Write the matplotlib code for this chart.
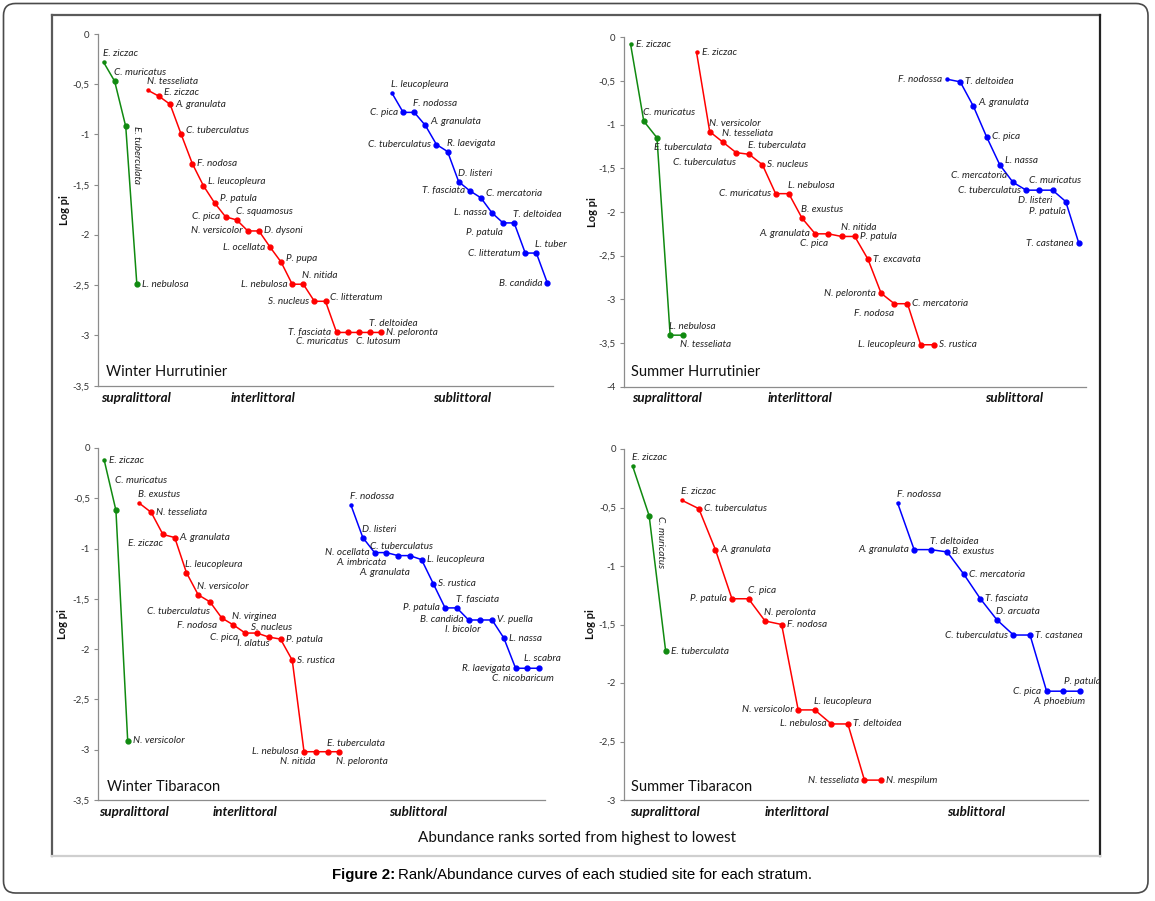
import matplotlib
matplotlib.use('Agg')
import matplotlib.pyplot as plt
from matplotlib.patches import FancyBboxPatch
from matplotlib.lines import Line2D
import numpy as np

# ---------------- DATA ----------------
# Winter Hurrutinier
wh_sup_species = ['E. ziczac', 'C. muricatus', 'E. tuberculata', 'L. nebulosa']
wh_sup_logpi = [-0.28, -0.47, -0.92, -2.49]
wh_int_species = ['N. tesseliata', 'E. ziczac', 'A. granulata', 'C. tuberculatus', 'F. nodosa',
                  'L. leucopleura', 'P. patula', 'C. pica', 'C. squamosus', 'N. versicolor',
                  'D. dysoni', 'L. ocellata', 'P. pupa', 'L. nebulosa', 'N. nitida', 'S. nucleus',
                  'C. litteratum', 'T. fasciata', 'C. muricatus', 'C. lutosum', 'T. deltoidea',
                  'N. peloronta']
wh_int_logpi = [-0.56, -0.62, -0.70, -1.00, -1.29, -1.51, -1.68, -1.82, -1.85, -1.96,
                -1.96, -2.12, -2.27, -2.49, -2.49, -2.66, -2.66, -2.97, -2.97, -2.97,
                -2.97, -2.97]
wh_sub_species = ['L. leucopleura', 'C. pica', 'F. nodossa', 'A. granulata', 'C. tuberculatus',
                  'R. laevigata', 'D. listeri', 'T. fasciata', 'C. mercatoria', 'L. nassa',
                  'P. patula', 'T. deltoidea', 'C. litteratum', 'L. tuber', 'B. candida']
wh_sub_logpi = [-0.59, -0.78, -0.78, -0.91, -1.10, -1.17, -1.47, -1.56, -1.63, -1.78,
                -1.88, -1.88, -2.18, -2.18, -2.48]

# Summer Hurrutinier
sh_sup_species = ['E. ziczac', 'C. muricatus', 'E. tuberculata', 'L. nebulosa', 'N. tesseliata']
sh_sup_logpi = [-0.08, -0.96, -1.15, -3.41, -3.41]
sh_int_species = ['E. ziczac', 'N. versicolor', 'N. tesseliata', 'C. tuberculatus', 'E. tuberculata',
                  'S. nucleus', 'C. muricatus', 'L. nebulosa', 'B. exustus', 'A. granulata',
                  'C. pica', 'N. nitida', 'P. patula', 'T. excavata', 'N. peloronta',
                  'F. nodosa', 'C. mercatoria', 'L. leucopleura', 'S. rustica']
sh_int_logpi = [-0.17, -1.08, -1.20, -1.32, -1.34, -1.46, -1.79, -1.79, -2.07, -2.25,
                -2.25, -2.28, -2.28, -2.54, -2.93, -3.05, -3.05, -3.52, -3.52]
sh_sub_species = ['F. nodossa', 'T. deltoidea', 'A. granulata', 'C. pica', 'L. nassa',
                  'C. mercatoria', 'C. tuberculatus', 'D. listeri', 'C. muricatus', 'P. patula',
                  'T. castanea']
sh_sub_logpi = [-0.48, -0.51, -0.79, -1.14, -1.46, -1.66, -1.75, -1.75, -1.75, -1.88, -2.36]

# Winter Tibaracon
wt_sup_species = ['E. ziczac', 'C. muricatus', 'N. versicolor']
wt_sup_logpi = [-0.12, -0.62, -2.91]
wt_int_species = ['B. exustus', 'N. tesseliata', 'E. ziczac', 'A. granulata', 'L. leucopleura',
                  'N. versicolor', 'C. tuberculatus', 'F. nodosa', 'N. virginea', 'C. pica',
                  'I. alatus', 'S. nucleus', 'P. patula', 'S. rustica', 'L. nebulosa',
                  'N. nitida', 'E. tuberculata', 'N. peloronta']
wt_int_logpi = [-0.55, -0.64, -0.86, -0.89, -1.24, -1.46, -1.53, -1.69, -1.76, -1.84,
                -1.84, -1.88, -1.90, -2.11, -3.02, -3.02, -3.02, -3.02]
wt_sub_species = ['F. nodossa', 'D. listeri', 'N. ocellata', 'A. imbricata', 'C. tuberculatus',
                  'A. granulata', 'L. leucopleura', 'S. rustica', 'P. patula', 'T. fasciata',
                  'B. candida', 'I. bicolor', 'V. puella', 'L. nassa', 'R. laevigata',
                  'C. nicobaricum', 'L. scabra']
wt_sub_logpi = [-0.57, -0.89, -1.04, -1.04, -1.07, -1.07, -1.11, -1.35, -1.59, -1.59,
                -1.71, -1.71, -1.71, -1.89, -2.19, -2.19, -2.19]

# Summer Tibaracon
st_sup_species = ['E. ziczac', 'C. muricatus', 'E. tuberculata']
st_sup_logpi = [-0.145, -0.57, -1.73]
st_int_species = ['E. ziczac', 'C. tuberculatus', 'A. granulata', 'P. patula', 'C. pica',
                  'N. perolonta', 'F. nodosa', 'N. versicolor', 'L. leucopleura', 'L. nebulosa',
                  'T. deltoidea', 'N. tesseliata', 'N. mespilum']
st_int_logpi = [-0.44, -0.51, -0.86, -1.28, -1.28, -1.47, -1.50, -2.23, -2.23, -2.35,
                -2.35, -2.83, -2.83]
st_sub_species = ['F. nodossa', 'A. granulata', 'T. deltoidea', 'B. exustus', 'C. mercatoria',
                  'T. fasciata', 'D. arcuata', 'C. tuberculatus', 'T. castanea', 'C. pica',
                  'A. phoebium', 'P. patula']
st_sub_logpi = [-0.46, -0.86, -0.86, -0.88, -1.07, -1.28, -1.46, -1.59, -1.59, -2.07,
                -2.07, -2.07]

panel_titles = ['Winter Hurrutinier', 'Summer Hurrutinier', 'Winter Tibaracon', 'Summer Tibaracon']
strata = ['supralittoral', 'interlittoral', 'sublittoral']
y_label = 'Log pi'
x_label = 'Abundance ranks sorted from highest to lowest'

# ---------------- LABEL PLACEMENT (style) ----------------
wh_sup_lab = ['ar', 'ar', 'v', 'r']
wh_int_lab = ['ar', 'ru', 'r', 'ru', 'r', 'ru', 'ru', 'l', 'ar', 'l', 'r', 'l', 'ru', 'l', 'ar',
              'l', 'ru', 'l', 'bl', 'br', 'ar', 'r']
wh_sub_lab = ['ar', 'l', 'ar', 'ru', 'l', 'ar', 'ar', 'l', 'ru', 'l', 'bl', 'ar', 'l', 'ar', 'l']
sh_sup_lab = ['r', 'ar', 'br', 'ar', 'br']
sh_int_lab = ['r', 'ar', 'ar', 'bl', 'ar', 'r', 'l', 'ar', 'ar', 'l', 'bl', 'ar', 'r', 'r',
              'l', 'bl', 'r', 'l', 'r']
sh_sub_lab = ['l', 'r', 'ru', 'r', 'ru', 'al', 'l', 'b', 'a', 'bl', 'l']
wt_sup_lab = ['r', 'hi', 'r']
wt_int_lab = ['ar', 'r', 'bl', 'r', 'ar', 'ar', 'bl', 'bll', 'ar', 'ld', 'b', 'a', 'r', 'r',
              'l', 'bl', 'ar', 'br']
wt_sub_lab = ['ar', 'ar', 'l', 'bl', 'a', 'bl2', 'r', 'r', 'l', 'ar', 'l', 'bl', 'r', 'r',
              'l', 'b', 'a']
st_sup_lab = ['ar', 'v', 'r']
st_int_lab = ['ar', 'r', 'r', 'l', 'ar', 'ar', 'r', 'l', 'ar', 'l', 'r', 'l', 'r']
st_sub_lab = ['ar', 'l', 'ar', 'r', 'r', 'r', 'ar', 'l', 'r', 'l', 'b', 'a']

panels = [
    dict(title=panel_titles[0], ylim=-3.5,
         series=[(wh_sup_species, wh_sup_logpi, wh_sup_lab),
                 (wh_int_species, wh_int_logpi, wh_int_lab),
                 (wh_sub_species, wh_sub_logpi, wh_sub_lab)],
         box=(98, 34, 553, 385.7), strata_x=(101, 231, 433), strata_y=398, title_xy=(106, 372), ylab_x=65),
    dict(title=panel_titles[1], ylim=-4.0,
         series=[(sh_sup_species, sh_sup_logpi, sh_sup_lab),
                 (sh_int_species, sh_int_logpi, sh_int_lab),
                 (sh_sub_species, sh_sub_logpi, sh_sub_lab)],
         box=(624, 37.3, 1085.5, 386.7), strata_x=(632, 768, 985), strata_y=398, title_xy=(631, 372), ylab_x=592),
    dict(title=panel_titles[2], ylim=-3.5,
         series=[(wt_sup_species, wt_sup_logpi, wt_sup_lab),
                 (wt_int_species, wt_int_logpi, wt_int_lab),
                 (wt_sub_species, wt_sub_logpi, wt_sub_lab)],
         box=(98.3, 448, 545, 800), strata_x=(99, 213, 389), strata_y=811.7, title_xy=(107, 787), ylab_x=63),
    dict(title=panel_titles[3], ylim=-3.0,
         series=[(st_sup_species, st_sup_logpi, st_sup_lab),
                 (st_int_species, st_int_logpi, st_int_lab),
                 (st_sub_species, st_sub_logpi, st_sub_lab)],
         box=(624.3, 449, 1088, 800), strata_x=(630, 765, 947), strata_y=811.7, title_xy=(631, 787), ylab_x=590),
]

colors = ['#108a10', '#ff0000', '#0000ff']

W, H = 1155, 901
fig = plt.figure(figsize=(W / 100, H / 100), dpi=100)
plt.rcParams['font.family'] = ['Lato', 'DejaVu Sans']

def fx(x):
    return x / W

def fy(y):
    return 1 - y / H

PX = 0.72  # points per pixel
OFFS = {
    'r': (5, 0, 'left', 'center'),
    'ru': (5, 4, 'left', 'center'),
    'l': (-5, 0, 'right', 'center'),
    'ld': (-7, -4, 'right', 'center'),
    'a': (3, 5, 'center', 'bottom'),
    'b': (-4, -6, 'center', 'top'),
    'ar': (-1, 4, 'left', 'bottom'),
    'al': (-6, 2, 'right', 'bottom'),
    'br': (-3, -5, 'left', 'top'),
    'bl': (0, -5, 'right', 'top'),
    'bll': (-5, -3, 'right', 'top'),
    'bl2': (0, -12, 'right', 'top'),
    'hi': (-1, 25, 'left', 'bottom'),
}

lab_fs = 7.2
for p in panels:
    l, t, r, b = p['box']
    ax = fig.add_axes([fx(l), fy(b), (r - l) / W, (b - t) / H])
    n = sum(len(s[1]) for s in p['series'])
    ax.set_xlim(0.5, n + 0.5)
    ax.set_ylim(p['ylim'], 0)
    start = 1
    for (names, vals, labs), c in zip(p['series'], colors):
        xs = np.arange(start, start + len(vals))
        ax.plot(xs, vals, color=c, lw=1.1, marker='o', ms=3.5, mec=c, mfc=c,
                markevery=list(range(1, len(vals))), zorder=3, clip_on=False)
        ax.plot(xs[:1], vals[:1], color=c, marker='o', ms=2.2, ls='none', zorder=3, clip_on=False)
        for x, v, nm, code in zip(xs, vals, names, labs):
            if code == 'v':
                ax.annotate(nm, (x, v), xytext=(11 * PX, 0), textcoords='offset points',
                            rotation=-90, rotation_mode='anchor', ha='left', va='center',
                            fontsize=lab_fs, style='italic', color='#222222')
            else:
                dx, dy, ha, va = OFFS[code]
                ax.annotate(nm, (x, v), xytext=(dx * PX, dy * PX), textcoords='offset points',
                            ha=ha, va=va, fontsize=lab_fs, style='italic', color='#222222')
        start += len(vals)
    ticks = np.arange(0, p['ylim'] - 0.01, -0.5)
    ax.set_yticks(ticks)
    ax.set_yticklabels([('%g' % tk).replace('.', ',') if tk != 0 else '0' for tk in ticks])
    ax.set_xticks([])
    for sp in ('top', 'right'):
        ax.spines[sp].set_visible(False)
    for sp in ('left', 'bottom'):
        ax.spines[sp].set_color('#8c8c8c')
        ax.spines[sp].set_linewidth(0.9)
    ax.tick_params(axis='y', direction='out', length=3, width=0.8, color='#8c8c8c',
                   labelsize=7, labelcolor='#333333', pad=3)
    ax.patch.set_visible(False)
    # y label
    fig.text(fx(p['ylab_x']), fy((t + b) / 2), y_label, rotation=90, ha='center', va='center',
             fontsize=8, weight='bold', color='#111111')
    # title
    fig.text(fx(p['title_xy'][0]), fy(p['title_xy'][1]), p['title'], ha='left', va='center',
             fontsize=10.5, color='#111111')
    for sx, st in zip(p['strata_x'], strata):
        fig.text(fx(sx), fy(p['strata_y']), st, ha='left', va='center', fontsize=9.6,
                 weight='bold', style='italic', color='#111111')

fig.text(fx(577), fy(838), x_label, ha='center', va='center', fontsize=11, color='#111111')

# inner frame
def fline(x0, y0, x1, y1, c, lw):
    fig.add_artist(Line2D([fx(x0), fx(x1)], [fy(y0), fy(y1)], color=c, lw=lw,
                          transform=fig.transFigure))

fline(52, 15, 1100, 15, '#5a5a5a', 1.6)
fline(52, 15, 52, 856, '#5a5a5a', 1.6)
fline(1100, 15, 1100, 856, '#222222', 1.6)
fline(52, 856, 1100, 856, '#cfcfcf', 1.6)

# outer rounded frame
outer = FancyBboxPatch((3.5 / 100, (H - 893) / 100), (1148 - 3.5) / 100, (893 - 3.5) / 100,
                       boxstyle='round,pad=0,rounding_size=0.12', transform=fig.dpi_scale_trans,
                       fill=False, ec='#4a4a4a', lw=1.2)
fig.add_artist(outer)

# caption
cap_font = ['Liberation Sans', 'DejaVu Sans']
t1 = fig.text(fx(332), fy(875), 'Figure 2:', ha='left', va='center', fontsize=10.8, weight='bold',
              family=cap_font, color='#000000')
fig.canvas.draw()
bb = t1.get_window_extent()
fig.text(bb.x1 / W + 3 / W, fy(875), 'Rank/Abundance curves of each studied site for each stratum.',
         ha='left', va='center', fontsize=10.8, family=cap_font, color='#000000')

fig.savefig('out.png', dpi=100)
